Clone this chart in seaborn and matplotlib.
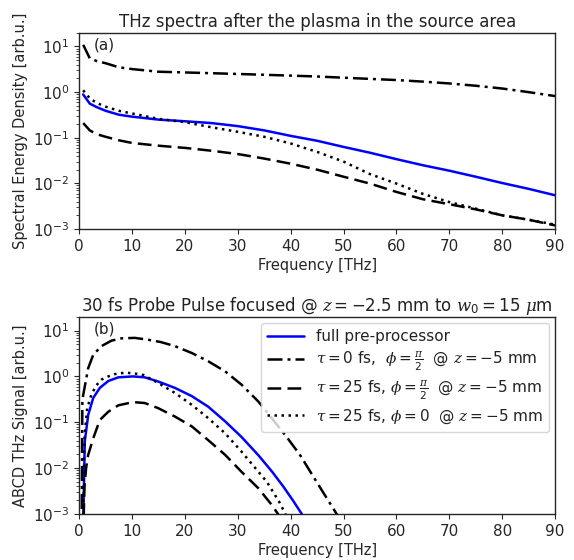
import numpy as np
import pandas as pd
import matplotlib
matplotlib.use('Agg')
import matplotlib.pyplot as plt
import seaborn as sns

# panel (a): spectra after the plasma
freq_a = [0.75, 2, 3.3, 5, 7.5, 10, 15, 20, 25, 30, 35, 40, 45, 50, 55, 60, 65, 70, 75, 80, 85, 90]
full_a = [0.89, 0.56, 0.47, 0.39, 0.32, 0.29, 0.25, 0.23, 0.21, 0.18, 0.145, 0.11, 0.086, 0.063,
          0.047, 0.034, 0.025, 0.019, 0.014, 0.0102, 0.0076, 0.0055]
tau0_a = [10.9, 5.5, 4.8, 4.3, 3.5, 3.2, 2.8, 2.7, 2.6, 2.5, 2.4, 2.3, 2.2, 2.07,
          1.95, 1.84, 1.7, 1.55, 1.38, 1.2, 1.0, 0.82]
tau25_a = [0.21, 0.145, 0.12, 0.105, 0.088, 0.077, 0.067, 0.06, 0.052, 0.044, 0.035, 0.027, 0.02, 0.014,
           0.0099, 0.0065, 0.0045, 0.0035, 0.0027, 0.002, 0.0016, 0.0012]
tau25p0_a = [1.1, 0.73, 0.58, 0.48, 0.39, 0.34, 0.26, 0.22, 0.17, 0.135, 0.105, 0.075, 0.049, 0.03,
             0.016, 0.0099, 0.0059, 0.0039, 0.0028, 0.002, 0.0016, 0.00125]

# panel (b): ABCD signal, log10 values
freq_full_b = [0.7, 1.05, 1.7, 2.65, 3.9, 5.5, 7.4, 10.2, 12.4, 14.9, 18.1, 21.3, 24.4, 27.6, 30.7,
               33.9, 36.5, 38.6, 40.4, 42.1, 43.5]
log_full_b = [-3.5, -1.42, -0.84, -0.47, -0.25, -0.1, -0.02, 0.0, -0.02, -0.11, -0.25, -0.43, -0.66,
              -0.98, -1.32, -1.72, -2.08, -2.4, -2.7, -3.0, -3.3]
freq_tau0_b = [0.45, 0.6, 1.7, 2.65, 4.2, 6.1, 8.0, 10.5, 13.0, 15.4, 18.1, 21.3, 24.4, 27.6, 30.7,
               33.9, 36.7, 39.3, 41.8, 44.9, 48.7, 50.5]
log_tau0_b = [-3.5, -0.5, 0.18, 0.47, 0.66, 0.78, 0.83, 0.84, 0.8, 0.75, 0.66, 0.51, 0.33, 0.11, -0.18,
              -0.55, -0.95, -1.33, -1.72, -2.3, -3.0, -3.3]
freq_tau25_b = [0.75, 1.0, 1.3, 1.7, 2.65, 3.9, 5.5, 7.4, 10.2, 12.4, 14.9, 18.1, 21.3, 24.4, 27.6,
                30.7, 33.9, 36.4, 37.6, 38.6]
log_tau25_b = [-3.5, -2.4, -2.0, -1.71, -1.35, -0.95, -0.77, -0.63, -0.56, -0.58, -0.69, -0.875, -1.09,
               -1.39, -1.71, -2.08, -2.44, -2.8, -3.0, -3.3]
freq_tau25p0_b = [0.7, 1.0, 1.5, 2.3, 3.2, 4.2, 5.5, 6.7, 8.6, 10.2, 12.2, 14.9, 18.1, 21.3, 24.4,
                  27.6, 30.7, 32.3, 35.5, 37.9, 39.0, 40.0]
log_tau25p0_b = [-3.5, -1.3, -0.7, -0.4, -0.2, -0.07, 0.0, 0.05, 0.08, 0.07, 0.03, -0.14, -0.36, -0.62,
                 -0.91, -1.24, -1.64, -1.86, -2.3, -2.75, -3.0, -3.3]

labels = ['full pre-processor',
          r'$\tau=0$ fs,  $\phi=\frac{\pi}{2}$  @ $z=-5$ mm',
          r'$\tau=25$ fs, $\phi=\frac{\pi}{2}$  @ $z=-5$ mm',
          r'$\tau=25$ fs, $\phi=0$  @ $z=-5$ mm']
styles = [('blue', '-'), ('black', (0, (6, 2, 1.2, 2))), ('black', (0, (5.5, 2.5))), ('black', (0, (1, 1.8)))]

sns.set_style('ticks')
plt.rcParams['font.family'] = ['DejaVu Sans']
plt.rcParams['mathtext.fontset'] = 'custom'
plt.rcParams['mathtext.rm'] = 'DejaVu Sans'
plt.rcParams['mathtext.it'] = 'DejaVu Serif:italic'
plt.rcParams['mathtext.bf'] = 'DejaVu Sans:bold'
plt.rcParams['xtick.labelsize'] = 11
plt.rcParams['ytick.labelsize'] = 11
plt.rcParams['text.color'] = '#222222'

fig = plt.figure(figsize=(5.74, 5.6), dpi=100)
ax1 = fig.add_axes([0.138, 0.591, 0.829, 0.3505])
ax2 = fig.add_axes([0.138, 0.0821, 0.829, 0.3523])

series_a = [(freq_a, full_a), (freq_a, tau0_a), (freq_a, tau25_a), (freq_a, tau25p0_a)]
series_b = [(freq_full_b, 10 ** np.array(log_full_b)),
            (freq_tau0_b, 10 ** np.array(log_tau0_b)),
            (freq_tau25_b, 10 ** np.array(log_tau25_b)),
            (freq_tau25p0_b, 10 ** np.array(log_tau25p0_b))]

for ax, series in [(ax1, series_a), (ax2, series_b)]:
    for (fx, ys), lab, (c, ls) in zip(series, labels, styles):
        sns.lineplot(x=fx, y=ys, ax=ax, color=c, linestyle=ls, linewidth=1.8, label=lab)
    ax.set_yscale('log')
    ax.set_ylim(1e-3, 20)
    ax.set_xlim(0, 90)
    ax.set_xticks(range(0, 91, 10))
    ax.set_xlabel('Frequency [THz]', fontsize=10.5, labelpad=3)
    for s in ax.spines.values():
        s.set_linewidth(1.0)

ax1.get_legend().remove()
ax1.set_ylabel('Spectral Energy Density [arb.u.]', fontsize=10.5)
ax1.set_title('THz spectra after the plasma in the source area', fontsize=12, pad=4)
ax1.text(0.03, 0.975, '(a)', transform=ax1.transAxes, fontsize=11, va='top', ha='left')

ax2.set_ylabel('ABCD THz Signal [arb.u.]', fontsize=10.5)
ax2.set_title(r'30 fs Probe Pulse focused @ $z=-2.5$ mm to $w_0=15$ $\mu$m', fontsize=12, pad=4)
ax2.text(0.03, 0.975, '(b)', transform=ax2.transAxes, fontsize=11, va='top', ha='left')
ax2.legend(loc='upper right', fontsize=11, frameon=True, handlelength=2.4, labelspacing=0.35,
           borderaxespad=0.4)

fig.savefig('out.png', dpi=100)
